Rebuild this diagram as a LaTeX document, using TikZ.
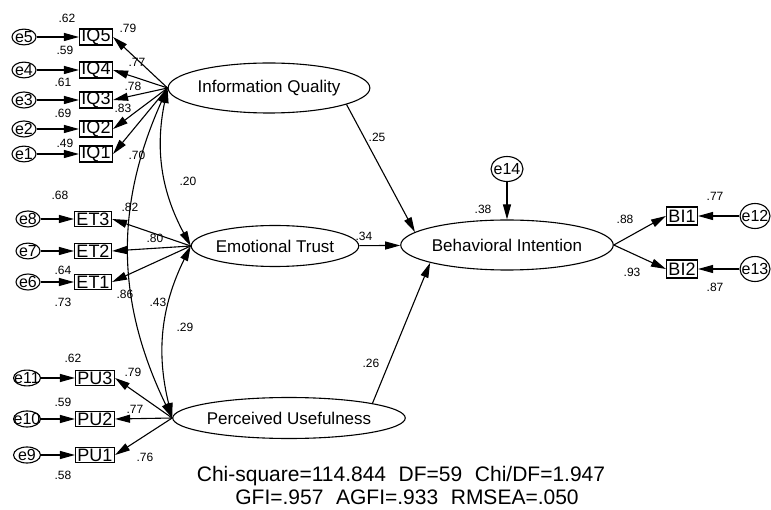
\documentclass[tikz,border=0pt]{standalone}
\usepackage{fontspec}
\setmainfont{Liberation Sans}
\usetikzlibrary{shapes.geometric,arrows.meta}

\begin{document}
\begin{tikzpicture}[
  latent/.style={ellipse,draw,line width=1.1pt,inner sep=0pt,font=\fontsize{17}{19}\selectfont},
  item/.style={rectangle,draw,line width=1.1pt,inner xsep=2pt,inner ysep=0pt,minimum height=15pt,font=\fontsize{18}{19}\selectfont},
  err/.style={ellipse,draw,line width=1.1pt,inner sep=0pt,minimum width=24pt,minimum height=15pt,font=\fontsize{16}{17}\selectfont},
  arr/.style={-{Triangle[length=15pt,width=8pt]},line width=1.1pt},
  cov/.style={{Triangle[length=15pt,width=8pt]}-{Triangle[length=15pt,width=8pt]},line width=1.1pt},
  coef/.style={inner sep=0pt,font=\fontsize{12}{13}\selectfont},
  fit/.style={anchor=base,inner sep=0pt,font=\fontsize{21}{23}\selectfont},
  x=1pt,y=-1pt
]
  \useasboundingbox (0,0) rectangle (771,510);
  % latent variables
  \node[latent,minimum width=158pt,minimum height=50pt] (IQ) at (269,88) {Information Quality};
  \node[latent,minimum width=145pt,minimum height=41pt] (ET) at (275,246) {Emotional Trust};
  \node[latent,minimum width=192pt,minimum height=41pt] (PU) at (289,418) {Perceived Usefulness};
  \node[latent,minimum width=203pt,minimum height=50pt] (BI) at (507,245) {Behavioral Intention};
  \node[err,minimum width=32pt,minimum height=25pt] (e14) at (507,169) {\makebox[0pt]{e14}};
  % indicators with their errors
  \foreach \n/\yy in {5/37,4/70,3/100,2/129,1/154} {
    \node[item] (IQ\n) at (96,\yy) {IQ\n};
    \node[err] (e\n) at (24,\yy) {\makebox[0pt]{e\n}};
    \draw[arr] (e\n) -- (IQ\n);
    \draw[arr] (IQ.west) -- (IQ\n.east);
  }
  \foreach \n/\e/\yy in {3/8/219,2/7/251,1/6/282} {
    \node[item] (ET\n) at (93,\yy) {ET\n};
    \node[err] (e\e) at (28,\yy) {\makebox[0pt]{e\e}};
    \draw[arr] (e\e) -- (ET\n);
    \draw[arr] (ET.west) -- (ET\n.east);
  }
  \foreach \n/\e/\yy in {3/11/378,2/10/419,1/9/455} {
    \node[item] (PU\n) at (95,\yy) {PU\n};
    \node[err,minimum width=27pt] (e\e) at (27,\yy) {\makebox[0pt]{e\e}};
    \draw[arr] (e\e) -- (PU\n);
    \draw[arr] (PU.west) -- (PU\n.east);
  }
  \foreach \n/\e/\yy in {1/12/216,2/13/269} {
    \node[item,minimum height=18pt] (BI\n) at (682,\yy) {BI\n};
    \node[err,minimum width=30pt,minimum height=25pt] (e\e) at (755,\yy) {\makebox[0pt]{e\e}};
    \draw[arr] (e\e) -- (BI\n);
    \draw[arr] (BI.east) -- (BI\n.west);
  }
  % structural paths and covariances
  \draw[arr] (IQ.348) -- (BI.172);
  \draw[arr] (ET) -- (BI);
  \draw[arr] (PU.10) -- (BI.193);
  \draw[arr] (e14) -- (BI);
  \draw[cov] (IQ.west) to[bend right=20] (ET.west);
  \draw[cov] (ET.west) to[bend right=20] (PU.west);
  \draw[cov] (IQ.west) to[bend right=25] (PU.west);
  % estimates
  \foreach \v/\xx/\yy [count=\k] in {.62/67/18,.59/65/50,.61/63/82,.69/63/113,.49/65/143,
      .79/128/28,.77/137/62,.78/133/86,.83/123/108,.70/137/155,
      .68/60/195,.64/63/270,.73/63/302,.82/130/207,.80/155/238,.86/125/294,
      .62/73/358,.59/63/402,.58/63/475,.79/133/372,.77/135/409,.76/145/457,
      .25/377/137,.20/188/181,.34/364/236,.29/185/327,.43/158/302,.26/371/363,.38/483/209,
      .88/625/219,.93/632/272,.77/715/196,.87/715/287}
    \node[coef] (c\k) at (\xx,\yy) {\v};
  % fit indices
  \node[fit] (fit1) at (401,481) {Chi-square=114.844\hspace{0.6em}DF=59\hspace{0.6em}Chi/DF=1.947};
  \node[fit] (fit2) at (407,504) {GFI=.957\hspace{0.6em}AGFI=.933\hspace{0.6em}RMSEA=.050};
\end{tikzpicture}
\end{document}
